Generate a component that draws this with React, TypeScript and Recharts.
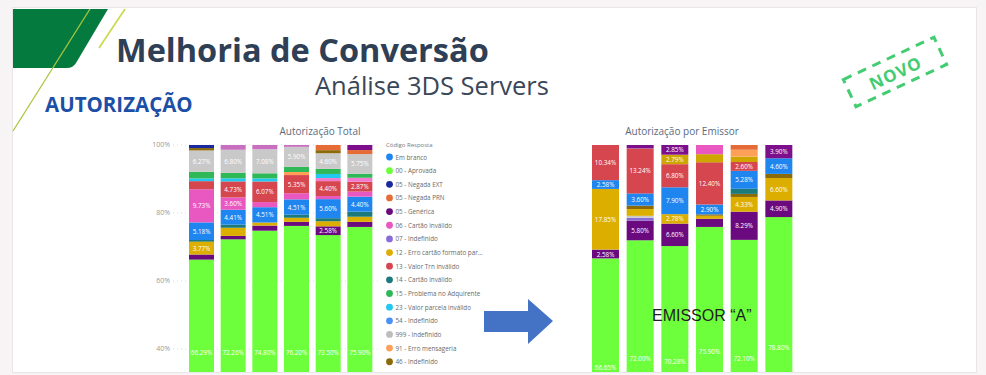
import React from 'react';
import { BarChart, Bar, XAxis, YAxis, CartesianGrid, LabelList } from 'recharts';

// ---------- categories ----------
const categories = ['P1', 'P2', 'P3', 'P4', 'P5', 'P6'];
const yTicks = [0.4, 0.6, 0.8, 1];

// ---------- legend (Código Resposta) ----------
const legendNames = [
  'Em branco',
  '00 - Aprovada',
  '05 - Negada EXT',
  '05 - Negada PRN',
  '05 - Genérica',
  '06 - Cartão inválido',
  '07 - Indefinido',
  '12 - Erro cartão formato par...',
  '13 - Valor Trn inválido',
  '14 - Cartão inválido',
  '15 - Problema no Adquirente',
  '23 - Valor parcela inválido',
  '54 - Indefinido',
  '999 - Indefinido',
  '91 - Erro mensageria',
  '46 - Indefinido',
];
const legendKeys = ['emb', 'apr', 'ext', 'prn', 'gen', 'cin', 'ind7', 'fmt', 'val', 'c14', 'adq', 'parc', 'i54', 'i999', 'erm', 'i46'];
const legendColors = ['#1f86f0', '#6eff3c', '#1a2a9e', '#e66c37', '#6b0a7f', '#e957c0', '#8a6cd6', '#dcae00', '#d6464f', '#1c7a7a', '#2fb857', '#22c8f0', '#4a90f5', '#bdbdbd', '#ffa058', '#8b6a0a'];
// series that are not in the visible part of the legend
const extraKeys = ['x1', 'x2', 'x4', 'x5'];
const extraNames = ['Outros A', 'Outros B', 'Outros C', 'Outros D'];
const extraColors = ['#7d0f8c', '#cfa600', '#f27bcf', '#c86fc0'];

// ---------- Autorização Total (values in %) ----------
const totApr = [66.29, 72.26, 74.8, 76.2, 73.5, 75.9];
const totGen = [1.5, 1.0, 1.5, 1.2, 2.58, 1.5];
const totFmt = [3.77, 2.4, 0.9, 1.2, 1.5, 1.5];
const totC14 = [0.5, 0.9, 0, 0.9, 0.9, 1.5];
const totEmb = [5.18, 4.41, 4.51, 4.51, 5.6, 4.4];
const totCin = [9.73, 3.6, 1.5, 1.8, 0.9, 1.5];
const totVal = [2.4, 4.73, 6.07, 5.35, 4.4, 2.87];
const totX4 = [0, 0, 0, 0, 0.9, 1.2];
const totErm = [0, 0, 0, 0.9, 0, 0];
const totParc = [0.8, 0.9, 0.9, 0, 1.2, 0];
const totAdq = [1.96, 1.6, 1.5, 1.5, 1.5, 1.2];
const totI999 = [6.27, 6.8, 7.08, 5.9, 4.6, 5.75];
const totI46 = [0.7, 0, 0, 0, 0.9, 0];
const totPrn = [0, 0, 0, 0, 1.52, 1.2];
const totExt = [0.9, 0, 0, 0, 0, 0];
const totX5 = [0, 1.4, 1.24, 0.54, 0, 0];
const totX1 = [0, 0, 0, 0, 0, 1.48];

// ---------- Autorização por Emissor (values in %) ----------
const emiApr = [66.65, 72.0, 70.28, 75.9, 72.1, 78.8];
const emiGen = [2.58, 5.8, 6.6, 2.4, 8.29, 4.9];
const emiInd7 = [0, 0.8, 0, 0, 0, 0];
const emiI999 = [0, 0.6, 0, 0, 0, 0];
const emiFmt = [17.85, 2.0, 2.78, 0.9, 4.33, 6.6];
const emiI46 = [0, 1.0, 0, 0.4, 0.9, 1.2];
const emiC14 = [0, 0, 0, 0, 1.5, 0];
const emiEmb = [2.58, 3.6, 7.9, 2.9, 5.28, 4.6];
const emiVal = [10.34, 13.24, 6.8, 12.4, 2.6, 0];
const emiX2 = [0, 0, 2.79, 2.4, 1.6, 0];
const emiErm = [0, 0, 0, 0, 2.0, 0];
const emiPrn = [0, 0, 0, 0, 1.4, 0];
const emiCin = [0, 0, 0, 2.7, 0, 0];
const emiX1 = [0, 1.0, 2.85, 0, 0, 3.9];

const totalStack: [string, number[]][] = [
  ['apr', totApr], ['gen', totGen], ['fmt', totFmt], ['c14', totC14], ['emb', totEmb], ['cin', totCin],
  ['val', totVal], ['x4', totX4], ['erm', totErm], ['parc', totParc], ['adq', totAdq], ['i999', totI999],
  ['i46', totI46], ['prn', totPrn], ['ext', totExt], ['x5', totX5], ['x1', totX1],
];
const emissorStack: [string, number[]][] = [
  ['apr', emiApr], ['gen', emiGen], ['ind7', emiInd7], ['i999', emiI999], ['fmt', emiFmt], ['i46', emiI46],
  ['c14', emiC14], ['emb', emiEmb], ['val', emiVal], ['x2', emiX2], ['erm', emiErm], ['prn', emiPrn],
  ['cin', emiCin], ['x1', emiX1],
];
const totalLabeled = ['apr', 'gen', 'fmt', 'emb', 'cin', 'val', 'i999'];
const emissorLabeled = ['apr', 'gen', 'fmt', 'emb', 'val', 'x1', 'x2'];

const colorOf = (k: string) => {
  const i = legendKeys.indexOf(k);
  if (i >= 0) return k === 'i999' ? '#c9c9c9' : legendColors[i];
  return extraColors[extraKeys.indexOf(k)];
};
const nameOf = (k: string) => {
  const i = legendKeys.indexOf(k);
  return i >= 0 ? legendNames[i] : extraNames[extraKeys.indexOf(k)];
};

const buildRows = (stack: [string, number[]][]) =>
  categories.map((c, i) => {
    const row: Record<string, any> = { name: c };
    stack.forEach(([k, arr]) => { row[k] = arr[i]; });
    return row;
  });

const totalRows = buildRows(totalStack);
const emissorRows = buildRows(emissorStack);

const FONT = '"Open Sans", "Noto Sans", sans-serif';

const makeLabel = (mode: 'center' | 'base', shift = 0) => (props: any) => {
  const vb = props.viewBox && props.viewBox.width != null ? props.viewBox : props;
  const x = Number(vb.x), y = Number(vb.y), w = Number(vb.width), h = Number(vb.height);
  const v = Number(props.value);
  if (!isFinite(v) || v < 2.5 || !isFinite(x) || !isFinite(y)) return null;
  const top = Math.min(y, y + h);
  const ah = Math.abs(h);
  const cy = (mode === 'base' ? top + ah - 133 : top + ah / 2) + shift;
  return (
    <text x={x + w / 2} y={cy} textAnchor="middle" dominantBaseline="central" fill="#ffffff" fontSize={6.3} fontFamily={FONT}>
      {v.toFixed(2)}%
    </text>
  );
};

const pct = (v: number) => `${Math.round(v * 100)}%`;

export default function App() {
  return (
    <div style={{ position: 'fixed', left: 0, top: 0, width: 986, height: 375, overflow: 'hidden', background: '#f6f4f5', fontFamily: FONT }}>
      {/* slide */}
      <div style={{ position: 'absolute', left: 13, top: 8, width: 963, height: 364, background: '#ffffff', boxShadow: '0 0 0 1px #ebe5e7' }} />

      {/* slide header decorations */}
      <svg width={986} height={375} style={{ position: 'absolute', left: 0, top: 0 }}>
        <path d="M13 9 H108 L76 63 Q73 68 67 68 H13 Z" fill="#057a3f" />
        <line x1={90} y1={9} x2={13} y2={131} stroke="#a9c83e" strokeWidth={1.3} />
        <line x1={125} y1={9} x2={99} y2={48} stroke="#c9d84a" strokeWidth={1.6} />
        <text x={116} y={62} fontFamily={FONT} fontWeight={700} fontSize={32.5} fill="#2f3f55">Melhoria de Conversão</text>
        <text x={315} y={95} fontFamily={FONT} fontSize={25.5} fill="#3a4758">Análise 3DS Servers</text>
        <text x={45} y={112} fontFamily={FONT} fontWeight={700} fontSize={20.5} fill="#1d4fa6">AUTORIZAÇÃO</text>
        <g transform="translate(895,72) rotate(-25)">
          <rect x={-50} y={-15} width={100} height={30} fill="none" stroke="#43cc72" strokeWidth={3} strokeDasharray="9 7" />
          <text x={0} y={1} textAnchor="middle" dominantBaseline="central" fontFamily={FONT} fontWeight={700} fontSize={17} fill="#43cc72" letterSpacing={1}>NOVO</text>
        </g>
        <text x={320} y={135} textAnchor="middle" fontFamily={FONT} fontSize={10} fill="#5b6a7e">Autorização Total</text>
        <text x={682} y={135} textAnchor="middle" fontFamily={FONT} fontSize={10} fill="#5b6a7e">Autorização por Emissor</text>
      </svg>

      {/* chart area, clipped at the slide bottom */}
      <div style={{ position: 'absolute', left: 0, top: 0, width: 986, height: 372, overflow: 'hidden' }}>
        <div style={{ position: 'absolute', left: 140, top: 140 }}>
          <BarChart width={250} height={345} data={totalRows} stackOffset="expand" margin={{ top: 5, right: 10, bottom: 0, left: 0 }} barSize={25}>
            <CartesianGrid vertical={false} stroke="#dcdcdc" strokeDasharray="1 3" />
            <XAxis dataKey="name" hide padding={{ left: 13, right: 4 }} />
            <YAxis width={33} domain={[0, 1]} ticks={yTicks} tickFormatter={pct} axisLine={false} tickLine={false} tickSize={0} tickMargin={3}
              tick={{ fontSize: 7, fill: '#9a9a9a', fontFamily: FONT }} />
            {totalStack.map(([k]) => (
              <Bar key={k} dataKey={k} name={nameOf(k)} stackId="t" fill={colorOf(k)} isAnimationActive={false}>
                {totalLabeled.includes(k) && (
                  <LabelList dataKey={k} content={makeLabel(k === 'apr' ? 'base' : 'center')} />
                )}
              </Bar>
            ))}
          </BarChart>
        </div>

        <div style={{ position: 'absolute', left: 588, top: 140 }}>
          <BarChart width={208} height={345} data={emissorRows} stackOffset="expand" margin={{ top: 5, right: 0, bottom: 0, left: 0 }} barSize={27}>
            <XAxis dataKey="name" hide />
            <YAxis hide domain={[0, 1]} />
            {emissorStack.map(([k]) => (
              <Bar key={k} dataKey={k} name={nameOf(k)} stackId="e" fill={colorOf(k)} isAnimationActive={false}>
                {emissorLabeled.includes(k) && <LabelList dataKey={k} content={makeLabel('center', k === 'apr' ? -4 : 0)} />}
              </Bar>
            ))}
          </BarChart>
        </div>

        {/* legend */}
        <svg width={986} height={372} style={{ position: 'absolute', left: 0, top: 0 }}>
          <text x={386} y={145} dominantBaseline="central" fontFamily={FONT} fontSize={6} fill="#7a7a7a">Código Resposta</text>
          {legendNames.map((n, i) => (
            <g key={n + i}>
              <circle cx={389.5} cy={157 + i * 13.65} r={3.4} fill={legendColors[i]} />
              <text x={395.5} y={157 + i * 13.65} dominantBaseline="central" fontFamily={FONT} fontSize={6.3} fill="#6a6a6a">{n}</text>
            </g>
          ))}
        </svg>

        {/* arrow + overlay text */}
        <svg width={986} height={372} style={{ position: 'absolute', left: 0, top: 0 }}>
          <polygon points="484,311 528,311 528,299 553,321 528,344 528,332 484,332" fill="#4472c4" />
          <text x={652} y={321} fontFamily='"Liberation Sans", Arial, sans-serif' fontSize={16} fill="#1f1f1f">EMISSOR “A”</text>
        </svg>
      </div>
    </div>
  );
}
